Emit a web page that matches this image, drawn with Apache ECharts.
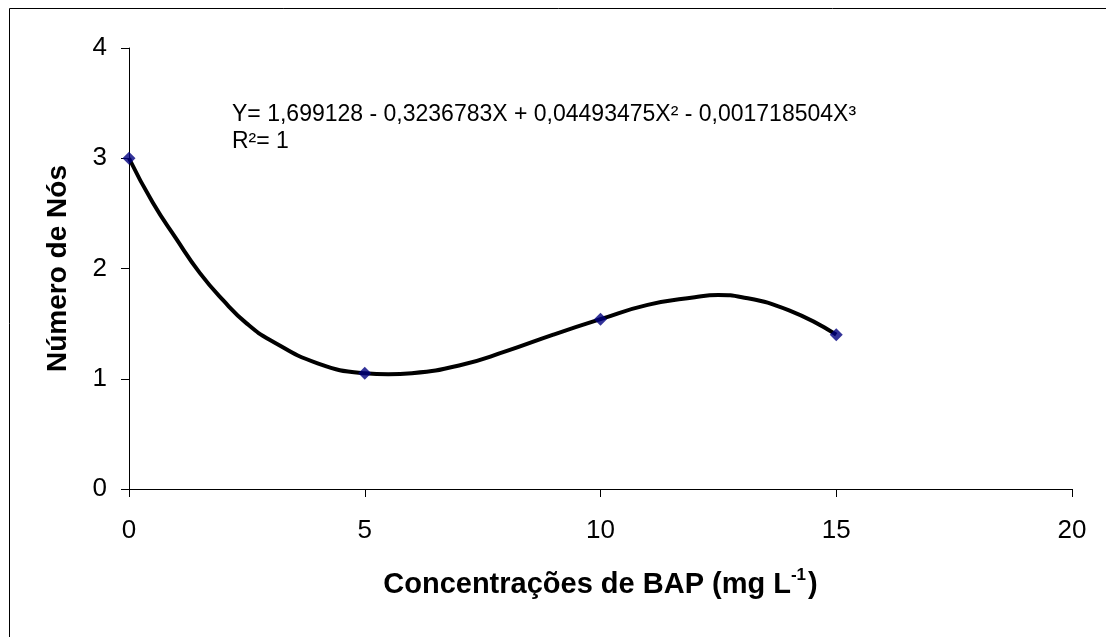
<!DOCTYPE html>
<html>
<head>
<meta charset="utf-8">
<script src="https://cdn.jsdelivr.net/npm/echarts@6/dist/echarts.min.js"></script>
<style>
html,body{margin:0;padding:0;background:#fff;}
#chart{width:1106px;height:637px;}
</style>
</head>
<body>
<div id="chart"></div>
<script>
// Observed data points
const pointX = [0, 5, 10, 15];
const pointY = [3.00, 1.05, 1.54, 1.40];
// Fitted curve, values
const curveX = [0, 0.5, 1, 1.5, 2, 2.5, 3, 4, 5, 5.5, 6, 7, 8, 9, 10, 11, 12, 12.5, 13, 14, 15];
const curveY = [3.00, 2.60, 2.27, 1.96, 1.71, 1.50, 1.35, 1.14, 1.05, 1.04, 1.05, 1.12, 1.25, 1.40, 1.54, 1.67, 1.74, 1.76, 1.74, 1.62, 1.40];
const xTicks = [0, 5, 10, 15, 20];
const yTicks = [0, 1, 2, 3, 4];
const equationLines = ['Y= 1,699128 - 0,3236783X + 0,04493475X² - 0,001718504X³', 'R²= 1'];
const xTitle = 'Concentrações de BAP (mg L';
const yTitle = 'Número de Nós';

const chart = echarts.init(document.getElementById('chart'), null, {renderer: 'canvas'});
const font = 'Liberation Sans, Arial, sans-serif';
chart.setOption({
  backgroundColor: '#fff',
  animation: false,
  grid: {left: 129, right: 34, top: 48, bottom: 148, containLabel: false},
  xAxis: {
    type: 'value', min: xTicks[0], max: xTicks[xTicks.length - 1], interval: 5,
    axisLine: {lineStyle: {color: '#000', width: 1}},
    axisTick: {show: true, length: 8, inside: false, lineStyle: {color: '#000'}},
    splitLine: {show: false},
    axisLabel: {color: '#000', fontFamily: font, fontSize: 26, margin: 29},
    name: '{t|' + xTitle + '}{s|-1}{t|)}',
    nameLocation: 'middle', nameGap: 78,
    nameTextStyle: {
      rich: {
        t: {fontFamily: font, fontSize: 29, fontWeight: 'bold', color: '#000', verticalAlign: 'bottom', lineHeight: 32},
        s: {fontFamily: font, fontSize: 17, fontWeight: 'bold', color: '#000', verticalAlign: 'top', lineHeight: 32, padding: [0, 2, 15, 0]}
      }
    }
  },
  yAxis: {
    type: 'value', min: yTicks[0], max: yTicks[yTicks.length - 1], interval: 1,
    axisLine: {show: true, lineStyle: {color: '#000', width: 1}},
    axisTick: {show: true, length: 8, inside: false, lineStyle: {color: '#000'}},
    splitLine: {show: false},
    axisLabel: {color: '#000', fontFamily: font, fontSize: 26, margin: 22},
    name: yTitle, nameLocation: 'middle', nameGap: 57, nameRotate: 90,
    nameTextStyle: {fontFamily: font, fontSize: 28, fontWeight: 'bold', color: '#000'}
  },
  graphic: [
    {type: 'rect', left: 7, top: 6, z: 0, silent: true,
     shape: {x: 0, y: 0, width: 1200, height: 700},
     style: {fill: 'none', stroke: '#000', lineWidth: 1}},
    {type: 'text', left: 232, top: 101, z: 10,
     style: {text: equationLines.join('\n'), font: '23px ' + font, fill: '#000', lineHeight: 27}}
  ],
  series: [
    {
      type: 'line', data: curveX.map((x, i) => [x, curveY[i]]),
      smooth: true, showSymbol: false, symbol: 'none',
      lineStyle: {color: '#000', width: 4}, z: 2
    },
    {
      type: 'scatter', data: pointX.map((x, i) => [x, pointY[i]]),
      symbol: 'diamond', symbolSize: 13,
      itemStyle: {color: '#000080'}, z: 3
    }
  ]
});
</script>
</body>
</html>
